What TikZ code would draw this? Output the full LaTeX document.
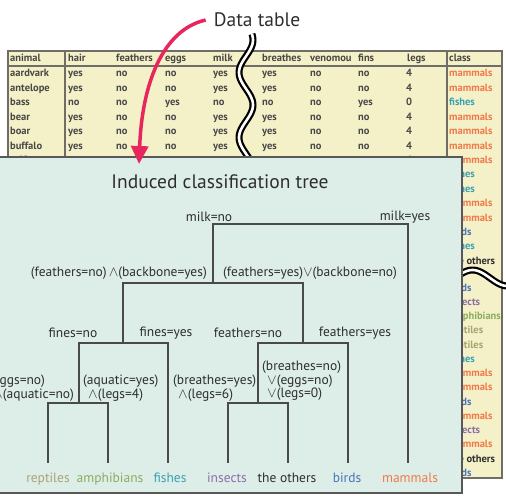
\documentclass[tikz,border=0pt]{standalone}
\usepackage{fontspec}
\setmainfont{PT Sans}
\usetikzlibrary{arrows.meta}

\definecolor{tablebg}{HTML}{F4F1C8}
\definecolor{tableedge}{HTML}{6E6E66}
\definecolor{tabletext}{HTML}{484848}
\definecolor{panelbg}{HTML}{DDEEE9}
\definecolor{paneledge}{HTML}{585858}
\definecolor{branchgray}{HTML}{4A4A4A}
\definecolor{condtext}{HTML}{2E2E2E}
\definecolor{arrowred}{HTML}{E8265E}
\definecolor{mammalc}{HTML}{F07A4A}
\definecolor{fishc}{HTML}{3AA0B2}
\definecolor{birdc}{HTML}{4A72B8}
\definecolor{insectc}{HTML}{8C6EA8}
\definecolor{amphic}{HTML}{8AAE5E}
\definecolor{reptc}{HTML}{A8A474}
\definecolor{otherc}{HTML}{2E2E2E}

\tikzset{
  cell/.style={anchor=base west, inner sep=0pt, text=tabletext, font=\fontsize{10.5}{12}\selectfont\bfseries},
  cond/.style={inner sep=0pt, text=condtext, align=left, font=\fontsize{13.5}{13.5}\selectfont},
  leaf/.style={anchor=base, text height=8pt, text depth=2pt, inner xsep=0pt, inner ysep=11pt, font=\fontsize{13.5}{14}\selectfont},
  branch/.style={draw=branchgray, line width=1.6pt},
  breakouter/.style={draw=black, line width=7pt},
  breakinner/.style={draw=white, line width=2.6pt},
  mammals/.style={text=mammalc},
  fishes/.style={text=fishc},
  birds/.style={text=birdc},
  insects/.style={text=insectc},
  amphibians/.style={text=amphic},
  reptiles/.style={text=reptc},
  others/.style={text=otherc}
}

\begin{document}
\begin{tikzpicture}[x=1pt, y=-1pt]
    \useasboundingbox (0,0) rectangle (506,503);

    % Data table
    \fill[tablebg] (8,51) rectangle (502,478);
    \begin{scope}
        \clip (8,51) rectangle (502,478);
        \foreach \head/\col [count=\j] in {animal/10, hair/68, feathers/116, eggs/165, milk/213,
            breathes/262, venomou/310, fins/358, legs/407, class/449}
            \node[cell] (head\j) at (\col,62) {\head};
        \foreach \name/\vHair/\vFeat/\vEggs/\vMilk/\vBrea/\vVeno/\vFins/\vLegs/\cls [count=\i from 0] in {
            aardvark/yes/no/no/yes/yes/no/no/4/mammals,
            antelope/yes/no/no/yes/yes/no/no/4/mammals,
            bass/no/no/yes/no/no/no/yes/0/fishes,
            bear/yes/no/no/yes/yes/no/no/4/mammals,
            boar/yes/no/no/yes/yes/no/no/4/mammals,
            buffalo/yes/no/no/yes/yes/no/no/4/mammals,
            calf/yes/no/no/yes/yes/no/no/4/mammals}{
            \pgfmathsetmacro\yy{77+14.4*\i}
            \node[cell] (animal\i) at (10,\yy) {\name};
            \node[cell] (hair\i) at (68,\yy) {\vHair};
            \node[cell] (feathers\i) at (116,\yy) {\vFeat};
            \node[cell] (eggs\i) at (165,\yy) {\vEggs};
            \node[cell] (milk\i) at (213,\yy) {\vMilk};
            \node[cell] (breathes\i) at (262,\yy) {\vBrea};
            \node[cell] (venom\i) at (310,\yy) {\vVeno};
            \node[cell] (fins\i) at (358,\yy) {\vFins};
            \node[cell] (legs\i) at (406,\yy) {\vLegs};
            \node[cell, \cls] (class\i) at (449,\yy) {\cls};
        }
        \foreach \cls/\txt [count=\i from 7] in {fishes/fishes, fishes/fishes, mammals/mammals,
            mammals/mammals, birds/birds, fishes/fishes, others/the others}{
            \pgfmathsetmacro\yy{77+14.4*\i}
            \node[cell, \cls] (class\i) at (449,\yy) {\txt};
        }
        \foreach \cls/\txt [count=\i from 0] in {birds/birds, insects/insects, amphibians/amphibians,
            reptiles/reptiles, reptiles/reptiles, fishes/fishes, mammals/mammals, mammals/mammals,
            birds/birds, mammals/mammals, insects/insects, mammals/mammals, others/the others, birds/birds}{
            \pgfmathsetmacro\yy{291+14.25*\i}
            \node[cell, \cls] (tail\i) at (449,\yy) {\txt};
        }
    \end{scope}
    \draw[tableedge, line width=1.2pt] (8,66) -- (502,66);
    \draw[tableedge, line width=1.2pt] (65,51) -- (65,478);
    \draw[tableedge, line width=1.2pt] (447,51) -- (447,478);
    \draw[tableedge, line width=1.6pt] (8,51) rectangle (502,478);

    % Breaks in the table
    \draw[breakouter] plot[domain=34:170, samples=70, smooth] ({246+7*cos((\x-40)/65*360)}, \x);
    \draw[breakinner] plot[domain=34:170, samples=70, smooth] ({246+7*cos((\x-40)/65*360)}, \x);
    \draw[breakouter] plot[domain=450:512, samples=40, smooth] (\x, {278+8*sin((\x-490)/70*360)});
    \draw[breakinner] plot[domain=450:512, samples=40, smooth] (\x, {278+8*sin((\x-490)/70*360)});

    % Tree panel
    \draw[fill=panelbg, draw=paneledge, line width=1.5pt] (-5,157) rectangle (462,493);
    \node[text=condtext, font=\fontsize{19.5}{22}\selectfont] (title) at (220,182) {Induced classification tree};

    % Tree nodes
    \coordinate (m0) at (213,224);
    \coordinate (m1) at (408,224);
    \coordinate (f0) at (123,283);
    \coordinate (f1) at (303,283);
    \coordinate (a0) at (79,343);
    \coordinate (a1) at (168,343);
    \coordinate (b0) at (258,343);
    \coordinate (b1) at (348,343);
    \coordinate (c0) at (48,403);
    \coordinate (c1) at (108,403);
    \coordinate (d0) at (228,403);
    \coordinate (d1) at (288,403);

    % Leaves
    \node[leaf, reptiles] (rep) at (48,482) {reptiles};
    \node[leaf, amphibians] (amp) at (110,482) {amphibians};
    \node[leaf, fishes] (fis) at (170,482) {fishes};
    \node[leaf, insects] (ins) at (227,482) {insects};
    \node[leaf, others] (oth) at (287,482) {the others};
    \node[leaf, birds] (bir) at (347,482) {birds};
    \node[leaf, mammals] (mam) at (410,482) {mammals};

    % Branches
    \draw[branch] (m0 |- f0) -- (m0) -- (m1) -- (m1 |- mam.north);
    \draw[branch] (f0 |- a0) -- (f0) -- (f1) -- (f1 |- b0);
    \draw[branch] (a0 |- c0) -- (a0) -- (a1) -- (a1 |- fis.north);
    \draw[branch] (b0 |- d0) -- (b0) -- (b1) -- (b1 |- bir.north);
    \draw[branch] (c0 |- rep.north) -- (c0) -- (c1) -- (c1 |- amp.north);
    \draw[branch] (d0 |- ins.north) -- (d0) -- (d1) -- (d1 |- oth.north);

    % Split conditions
    \node[cond] (lm0) at (209,217) {milk=no};
    \node[cond] (lm1) at (405,217) {milk=yes};
    \node[cond, anchor=east] (lf0) at (207,273) {(feathers=no)\,$\wedge$(backbone=yes)};
    \node[cond, anchor=west] (lf1) at (223,273) {(feathers=yes)$\vee$(backbone=no)};
    \node[cond] (la0) at (73,333) {fines=no};
    \node[cond] (la1) at (166,333) {fines=yes};
    \node[cond] (lb0) at (248,333) {feathers=no};
    \node[cond] (lb1) at (355,333) {feathers=yes};
    \node[cond, anchor=west] (lc0) at (-11,388) {(eggs=no)\\\hspace*{4pt}$\wedge$(aquatic=no)};
    \node[cond, anchor=west] (lc1) at (83,388) {(aquatic=yes)\\\hspace*{5pt}$\wedge$(legs=4)};
    \node[cond, anchor=west] (ld0) at (173,388) {(breathes=yes)\\\hspace*{5pt}$\wedge$(legs=6)};
    \node[cond, anchor=west] (ld1) at (262,381) {(breathes=no)\\\hspace*{5pt}$\vee$(eggs=no)\\\hspace*{5pt}$\vee$(legs=0)};

    % Data table label and arrow
    \node[text=condtext, font=\fontsize{19.5}{22}\selectfont, inner xsep=8pt] (dt) at (257,20) {Data table};
    \coordinate (tip) at (139,164);
    \draw[arrowred, line width=3.5pt, -{Triangle[length=18pt, width=17pt]}]
        (dt.west) .. controls (162,30) and (142,85) .. (tip);
\end{tikzpicture}
\end{document}
